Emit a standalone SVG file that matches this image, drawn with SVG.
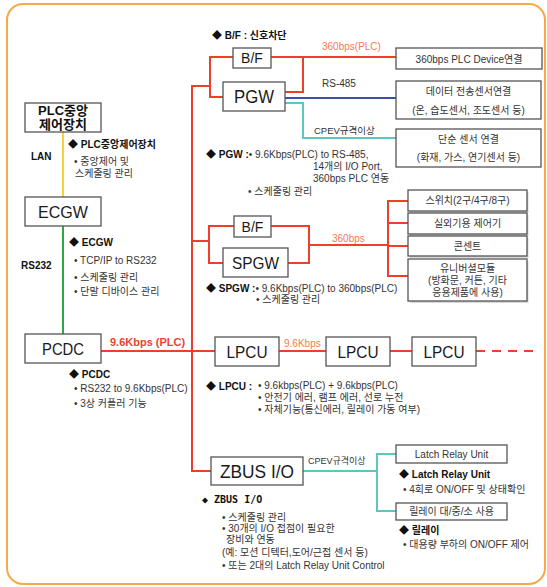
<svg xmlns="http://www.w3.org/2000/svg" width="547" height="587" viewBox="0 0 547 587">
<style>
.box{fill:#fff;stroke:#555;stroke-width:1.3}
.sh{fill:#d8d8d8}
.red{fill:none;stroke:#EE3F2A;stroke-width:2}
.blue{fill:none;stroke:#3E4DA8;stroke-width:2.2}
.teal{fill:none;stroke:#5CC6BC;stroke-width:2}
.big{font-family:"Liberation Sans",Arial,sans-serif;font-size:17px;fill:#1a1a1a;text-anchor:middle}
.t{font-family:"Liberation Sans","Noto Sans CJK KR",sans-serif;font-size:10px;fill:#333}
.c{text-anchor:middle}
.b{font-weight:bold;fill:#111}
.o{fill:#F47B4F}
.mono{font-family:"DejaVu Sans Mono","Noto Sans CJK KR",monospace}
</style>
<rect x="7" y="4" width="538" height="580" rx="16" fill="#fff" stroke="#F6A94B" stroke-width="2"/>

<g id="connectors">
  <line x1="63" y1="132" x2="63" y2="197" stroke="#F7D23A" stroke-width="2"/>
  <line x1="63" y1="226" x2="63" y2="334" stroke="#2CA84A" stroke-width="2"/>
  <path class="red" d="M210,86 H192 V471 H211"/>
  <path class="red" d="M233,57 H210 V97 H223"/>
  <path class="red" d="M271,57 H396 M303,57 V92 H285"/>
  <path class="blue" d="M285,98 H396"/>
  <path class="teal" d="M285,103 H303 V138 H396"/>
  <path class="red" d="M192,241 H209 M234,226 H209 V263 H223"/>
  <path class="red" d="M271,226 H309 V263 H288 M309,245 H388"/>
  <path class="red" d="M408,201 H388 V276 H408 M388,223 H408 M388,246 H408"/>
  <path class="red" d="M101,351 H215 M279,351 H326 M390,351 H412"/>
  <path class="red" d="M476,351 H535" stroke-dasharray="9 7"/>
  <path class="teal" d="M303,471 H377 M396,454 H377 V511 H396"/>
</g>

<g id="plc-center">
  <rect class="box" x="25" y="103" width="76" height="29"/>
  <text class="t b c" x="63" y="115" style="font-size:13px">PLC중앙</text>
  <text class="t b c" x="63" y="129" style="font-size:13px">제어장치</text>
</g>
<g id="ecgw">
  <rect class="box" x="25" y="197" width="76" height="29"/>
  <text class="big" x="63" y="218" textLength="50" lengthAdjust="spacingAndGlyphs">ECGW</text>
</g>
<g id="pcdc">
  <rect class="box" x="25" y="334" width="76" height="29"/>
  <text class="big" x="63" y="355" textLength="42" lengthAdjust="spacingAndGlyphs">PCDC</text>
</g>
<g id="bf1">
  <rect class="box" x="233" y="48" width="38" height="20"/>
  <text class="big" x="252" y="63" style="font-size:14px">B/F</text>
</g>
<g id="pgw">
  <rect class="box" x="223" y="82" width="62" height="29"/>
  <text class="big" x="254" y="103" style="font-size:18px" textLength="40" lengthAdjust="spacingAndGlyphs">PGW</text>
</g>
<g id="plc-device">
  <rect class="box" x="396" y="48" width="146" height="21"/>
  <text class="t c" x="469" y="62.5">360bps PLC Device연결</text>
</g>
<g id="data-sensor">
  <rect class="box" x="396" y="81" width="145" height="38"/>
  <text class="t c" x="468.5" y="95">데이터 전송센서연결</text>
  <text class="t c" x="468.5" y="114">(온, 습도센서, 조도센서 등)</text>
</g>
<g id="simple-sensor">
  <rect class="box" x="396" y="129" width="145" height="38"/>
  <text class="t c" x="468.5" y="143">단순 센서 연결</text>
  <text class="t c" x="468.5" y="161">(화재, 가스, 연기센서 등)</text>
</g>
<g id="bf2">
  <rect class="box" x="234" y="216" width="37" height="21"/>
  <text class="big" x="252.5" y="231.5" style="font-size:14px">B/F</text>
</g>
<g id="spgw">
  <rect class="box" x="223" y="248" width="65" height="29"/>
  <text class="big" x="255.5" y="269" textLength="47" lengthAdjust="spacingAndGlyphs">SPGW</text>
</g>
<g id="switch">
  <rect class="sh" x="409.5" y="192" width="119" height="21"/>
  <rect class="box" x="408" y="190" width="119" height="21"/>
  <text class="t c" x="467.5" y="204">스위치(2구/4구/8구)</text>
</g>
<g id="outdoor">
  <rect class="sh" x="409.5" y="215" width="119" height="21"/>
  <rect class="box" x="408" y="213" width="119" height="21"/>
  <text class="t c" x="467.5" y="227">실외기용 제어기</text>
</g>
<g id="outlet">
  <rect class="sh" x="409.5" y="238" width="119" height="20"/>
  <rect class="box" x="408" y="236" width="119" height="20"/>
  <text class="t c" x="467.5" y="250">콘센트</text>
</g>
<g id="universal">
  <rect class="sh" x="409.5" y="261" width="119" height="42"/>
  <rect class="box" x="408" y="259" width="119" height="42"/>
  <text class="t c" x="467.5" y="272">유니버셜모듈</text>
  <text class="t c" x="467.5" y="284">(방화문, 커튼, 기타</text>
  <text class="t c" x="467.5" y="296">응용제품에 사용)</text>
</g>
<g id="lpcu1">
  <rect class="box" x="215" y="337" width="64" height="29"/>
  <text class="big" x="247" y="358" textLength="41" lengthAdjust="spacingAndGlyphs">LPCU</text>
</g>
<g id="lpcu2">
  <rect class="box" x="326" y="337" width="64" height="29"/>
  <text class="big" x="358" y="358" textLength="41" lengthAdjust="spacingAndGlyphs">LPCU</text>
</g>
<g id="lpcu3">
  <rect class="box" x="412" y="337" width="64" height="29"/>
  <text class="big" x="444" y="358" textLength="41" lengthAdjust="spacingAndGlyphs">LPCU</text>
</g>
<g id="zbus">
  <rect class="box" x="211" y="457" width="92" height="28"/>
  <text class="big" x="257" y="477.5" style="font-size:18px" textLength="74" lengthAdjust="spacingAndGlyphs">ZBUS I/O</text>
</g>
<g id="latch">
  <rect class="box" x="396" y="445" width="111" height="18"/>
  <text class="t c" x="451.5" y="457.5">Latch Relay Unit</text>
</g>
<g id="relay">
  <rect class="box" x="396" y="503" width="111" height="17"/>
  <text class="t c" x="451.5" y="515">릴레이 대/중/소 사용</text>
</g>

<g id="labels">
  <text class="t b" x="31" y="160">LAN</text>
  <text class="t b" x="21" y="269">RS232</text>
  <text class="t b" x="68" y="148">◆ PLC중앙제어장치</text>
  <text class="t" x="74" y="165">• 중앙제어 및</text>
  <text class="t" x="75" y="177">스케줄링 관리</text>
  <text class="t b" x="69" y="246">◆ ECGW</text>
  <text class="t" x="74" y="264">• TCP/IP to RS232</text>
  <text class="t" x="74" y="281">• 스케줄링 관리</text>
  <text class="t" x="74" y="295">• 단말 디바이스 관리</text>
  <text class="t b" x="110" y="346" style="font-size:11px;fill:#E8452C">9.6Kbps (PLC)</text>
  <text class="t b" x="69" y="378">◆ PCDC</text>
  <text class="t" x="74" y="392">• RS232 to 9.6Kbps(PLC)</text>
  <text class="t" x="74" y="407">• 3상 커플러 기능</text>

  <text class="t b" x="212" y="39">◆ B/F : 신호차단</text>
  <text class="t o" x="322" y="50">360bps(PLC)</text>
  <text class="t" x="322" y="87">RS-485</text>
  <text class="t" x="314" y="134" style="font-size:9.5px">CPEV규격이상</text>
  <text class="t" x="206" y="158"><tspan class="b">◆ PGW :</tspan>• 9.6Kbps(PLC) to RS-485,</text>
  <text class="t" x="313" y="170">14개의 I/O Port,</text>
  <text class="t" x="313" y="182">360bps PLC 연동</text>
  <text class="t" x="248" y="195">• 스케줄링 관리</text>

  <text class="t o" x="332" y="242">360bps</text>
  <text class="t" x="206" y="292"><tspan class="b">◆ SPGW :</tspan>• 9.6Kbps(PLC) to 360bps(PLC)</text>
  <text class="t" x="256" y="303">• 스케줄링 관리</text>

  <text class="t o" x="284" y="347">9.6Kbps</text>
  <text class="t b" x="206" y="390">◆ LPCU :</text>
  <text class="t" x="258" y="389">•  9.6kbps(PLC) + 9.6kbps(PLC)</text>
  <text class="t" x="258" y="401">• 안전기 에러, 램프 에러, 선로 누전</text>
  <text class="t" x="258" y="413">• 자체기능(통신에러, 릴레이 가동 여부)</text>

  <text class="t" x="308" y="464" style="font-size:9px">CPEV규격이상</text>
  <text class="t b mono" x="202" y="503">◆ ZBUS I/O</text>
  <text class="t" x="222" y="521">• 스케줄링 관리</text>
  <text class="t" x="222" y="532">• 30개의 I/O 접점이 필요한</text>
  <text class="t" x="226" y="543">장비와 연동</text>
  <text class="t" x="222" y="556">(예: 모션 디텍터,도어/근접 센서 등)</text>
  <text class="t" x="222" y="569">• 또는 2대의 Latch Relay Unit Control</text>

  <text class="t b" x="399" y="478">◆ Latch Relay Unit</text>
  <text class="t" x="403" y="493">• 4회로 ON/OFF 및 상태확인</text>
  <text class="t b" x="399" y="534">◆ 릴레이</text>
  <text class="t" x="403" y="548">• 대용량 부하의 ON/OFF 제어</text>
</g>
</svg>
